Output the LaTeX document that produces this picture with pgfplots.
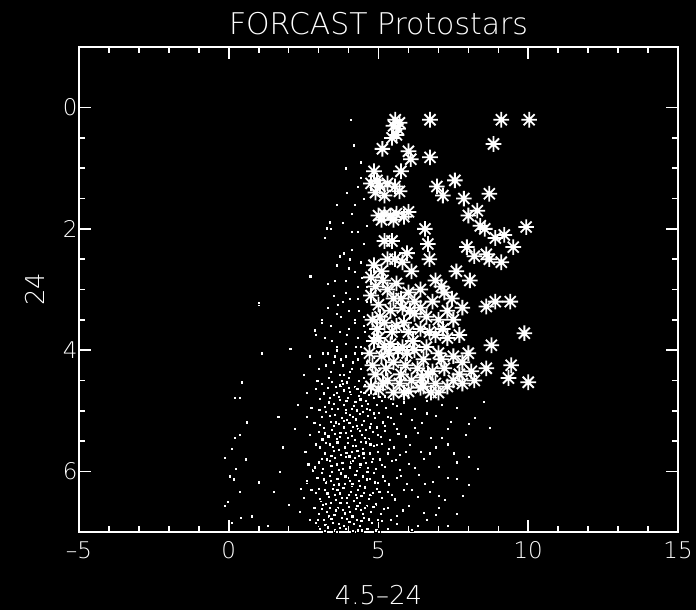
\documentclass[border=0pt]{standalone}
\usepackage{pgfplots}
\pgfplotsset{compat=1.18}
\usepackage{fontspec}
\setmainfont{DejaVu Sans ExtraLight}
\usetikzlibrary{backgrounds}
\pgfdeclareplotmark{ast8}{%
  \pgfpathmoveto{\pgfqpoint{-\pgfplotmarksize}{0pt}}\pgfpathlineto{\pgfqpoint{\pgfplotmarksize}{0pt}}%
  \pgfpathmoveto{\pgfqpoint{0pt}{-\pgfplotmarksize}}\pgfpathlineto{\pgfqpoint{0pt}{\pgfplotmarksize}}%
  \pgfpathmoveto{\pgfqpoint{-.707\pgfplotmarksize}{-.707\pgfplotmarksize}}\pgfpathlineto{\pgfqpoint{.707\pgfplotmarksize}{.707\pgfplotmarksize}}%
  \pgfpathmoveto{\pgfqpoint{-.707\pgfplotmarksize}{.707\pgfplotmarksize}}\pgfpathlineto{\pgfqpoint{.707\pgfplotmarksize}{-.707\pgfplotmarksize}}%
  \pgfusepathqstroke}
\begin{document}
\begin{tikzpicture}
\begin{axis}[
  name=ax, scale only axis, width=599bp, height=485bp,
  xmin=-5, xmax=15, ymin=-1, ymax=7, y dir=reverse,
  axis line style={white, line width=1.6bp},
  every tick/.style={white, line width=1.6bp},
  xtick pos=both, ytick pos=both, xticklabel pos=lower, yticklabel pos=left,
  tick align=inside, major tick length=12bp, minor tick length=6bp,
  xtick={-5,0,5,10,15}, xticklabels={\textendash5,0,5,10,15},
  minor x tick num=4,
  ytick={0,2,4,6}, yticklabels={0,2,4,6}, minor y tick num=3,
  ticklabel style={white, font=\fontsize{23}{23}\selectfont},
  xticklabel style={yshift=-6bp},
  yticklabel style={xshift=2bp},
  title={FORCAST Protostars},
  title style={white, font=\fontsize{30}{30}\selectfont, yshift=3bp},
  xlabel={4.5\textendash24}, ylabel={24},
  xlabel shift=20bp, ylabel shift=12bp,
  label style={white, font=\fontsize{26}{26}\selectfont},
  axis background/.style={fill=black},
]
% field sources (dots)
\addplot[only marks, mark=square*, mark size=1.6bp, mark options={fill=white, draw=none}] coordinates {
(4.07,0.2)(4.17,0.62)(4.4,0.9)(3.9,1.0)
(4.3,1.3)(4.5,1.5)(4.1,1.75)(3.8,1.9)(4.6,1.95)(4.4,1.15)(3.6,1.6)(3.95,1.4)(4.2,1.6)
(3.4,2.0)(3.2,2.15)(4.1,2.35)(4.5,2.25)(3.7,2.45)(4.3,2.05)(3.28,1.99)(3.37,1.89)(4.1,2.05)(3.85,2.4)(4.05,2.5)
(3.6,2.6)(4.2,2.7)(4.4,2.55)(3.9,2.85)(4.6,2.95)(3.3,2.9)(4.0,2.65)(4.3,2.95)(2.72,2.78)(4.45,2.8)(3.55,2.85)
(1.0,3.25)(3.5,3.1)(3.8,3.2)(4.0,3.35)(4.3,3.15)(4.5,3.45)(3.6,3.4)(4.2,3.5)(3.3,3.3)(4.6,3.2)(3.9,3.05)(3.1,3.5)(3.75,3.45)(4.05,3.15)(4.35,3.35)(3.65,3.25)
(3.4,3.6)(3.7,3.7)(4.0,3.65)(4.3,3.8)(4.5,3.6)(3.6,3.95)(3.9,3.9)(4.2,3.55)(4.4,3.95)(3.2,3.8)(2.9,3.75)(4.6,3.85)(3.1,3.55)(2.88,3.67)(2.05,3.97)(3.45,3.85)(3.95,3.75)(4.25,3.95)(4.55,3.7)
(1.09,4.05)(2.7,4.1)(3.0,4.3)(3.3,4.05)(3.5,4.2)(3.7,4.4)(3.9,4.1)(4.1,4.3)(4.3,4.15)(4.5,4.45)(3.6,4.0)(3.8,4.25)(4.0,4.45)(4.2,4.05)(3.4,4.35)(2.5,4.4)(4.4,4.3)(4.6,4.2)(3.55,4.1)(3.85,4.4)(4.15,4.2)(4.45,4.05)(3.25,4.25)(3.35,4.45)(4.05,4.35)(3.75,4.15)(3.15,4.05)(2.95,4.5)
(3.1,4.55)(3.3,4.62)(3.45,4.52)(3.6,4.7)(3.72,4.58)(3.85,4.66)(3.95,4.53)(4.08,4.72)(4.2,4.6)(4.33,4.5)(4.42,4.68)(4.55,4.57)(4.66,4.74)(3.5,4.74)(2.9,4.64)(2.6,4.7)(4.0,4.62)(3.77,4.51)
(3.05,4.8)(3.2,4.93)(3.38,4.78)(3.5,4.88)(3.63,4.97)(3.7,4.82)(3.83,4.9)(3.97,4.78)(4.1,4.96)(4.22,4.85)(4.35,4.76)(4.45,4.92)(4.58,4.83)(4.7,4.98)(4.83,4.79)(4.95,4.9)(5.1,4.84)(5.25,4.95)(5.4,4.8)(5.6,4.92)(5.85,4.86)(6.2,4.97)(6.6,4.83)(7.1,4.9)(2.75,4.95)(3.9,4.99)(4.27,4.99)(5.02,4.77)(8.5,4.85)(7.6,4.95)
(3.16,4.71)(3.33,4.86)(3.57,4.6)(3.66,4.77)(3.81,4.56)(3.92,4.84)(4.04,4.69)(4.16,4.91)(4.29,4.64)(4.39,4.81)(4.52,4.7)(4.64,4.89)(4.77,4.62)(4.9,4.72)(5.2,4.76)(5.48,4.88)(3.02,4.98)(3.44,4.96)(4.6,4.96)(6.9,4.72)(5.75,4.75)
(3.1,5.1)(3.25,5.02)(3.4,5.18)(3.55,5.06)(3.66,5.22)(3.78,5.12)(3.9,5.03)(4.02,5.2)(4.14,5.1)(4.26,5.24)(4.38,5.05)(4.5,5.16)(4.63,5.08)(4.75,5.21)(4.88,5.12)(5.0,5.03)(5.15,5.19)(5.32,5.1)(5.5,5.22)(5.75,5.05)(6.1,5.15)(6.45,5.2)(6.9,5.08)(7.4,5.18)(8.2,5.12)(2.85,5.2)(3.5,5.24)(4.45,5.23)(3.95,5.15)
(3.0,5.35)(3.18,5.28)(3.32,5.42)(3.47,5.3)(3.6,5.47)(3.72,5.36)(3.84,5.27)(3.96,5.44)(4.08,5.33)(4.2,5.48)(4.31,5.29)(4.43,5.4)(4.56,5.31)(4.68,5.46)(4.8,5.35)(4.93,5.27)(5.08,5.43)(5.22,5.33)(5.38,5.48)(5.6,5.3)(5.9,5.42)(6.3,5.36)(6.75,5.45)(7.3,5.3)(7.9,5.4)(8.7,5.28)(2.7,5.4)(3.55,5.38)(4.15,5.26)(4.6,5.49)
(3.04,5.23)(3.2,5.37)(3.36,5.08)(3.44,5.31)(3.58,5.19)(3.7,5.43)(3.83,5.16)(3.9,5.36)(4.05,5.06)(4.11,5.41)(4.24,5.14)(4.36,5.33)(4.48,5.02)(4.55,5.45)(4.7,5.27)(4.84,5.04)(4.98,5.39)(5.2,5.25)(5.42,5.12)(5.66,5.38)(6.2,5.28)(6.6,5.04)(7.1,5.44)(8.0,5.22)(2.6,5.1)(3.12,5.47)
(3.05,5.6)(3.2,5.7)(3.36,5.55)(3.5,5.66)(3.62,5.52)(3.74,5.72)(3.86,5.6)(3.98,5.53)(4.1,5.68)(4.22,5.57)(4.34,5.74)(4.46,5.62)(4.58,5.52)(4.7,5.7)(4.84,5.58)(4.97,5.67)(5.12,5.54)(5.3,5.7)(5.5,5.6)(5.72,5.73)(6.05,5.56)(6.4,5.68)(6.9,5.6)(7.5,5.7)(2.9,5.55)(2.55,5.68)(3.42,5.74)(4.02,5.75)(4.4,5.51)
(3.1,5.79)(3.25,5.53)(3.38,5.83)(3.47,5.59)(3.58,5.91)(3.68,5.64)(3.81,5.96)(3.92,5.69)(4.06,5.85)(4.13,5.58)(4.29,5.66)(4.36,5.92)(4.49,5.7)(4.57,5.86)(4.72,5.55)(4.8,5.79)(4.95,5.56)(5.1,5.89)(5.35,5.62)(5.58,5.81)(5.9,5.68)(6.2,5.94)(6.7,5.7)(7.3,5.55)(8.0,5.76)(2.65,5.88)
(3.0,5.85)(3.15,5.95)(3.28,5.8)(3.42,5.9)(3.55,5.78)(3.67,5.97)(3.79,5.86)(3.91,5.76)(4.03,5.93)(4.15,5.83)(4.27,5.99)(4.39,5.88)(4.51,5.77)(4.63,5.94)(4.76,5.84)(4.9,5.96)(5.05,5.8)(5.22,5.92)(5.45,5.82)(5.7,5.97)(6.0,5.87)(6.5,5.79)(7.0,5.92)(7.6,5.85)(8.3,5.95)(2.8,5.98)(3.6,5.88)(4.2,5.77)(2.86,5.93)
(2.95,6.1)(3.1,6.02)(3.24,6.18)(3.37,6.07)(3.5,6.22)(3.62,6.12)(3.74,6.03)(3.86,6.2)(3.98,6.1)(4.1,6.24)(4.22,6.05)(4.34,6.16)(4.46,6.08)(4.58,6.23)(4.7,6.12)(4.83,6.02)(4.98,6.19)(5.15,6.08)(5.35,6.21)(5.6,6.1)(5.95,6.2)(6.35,6.05)(6.8,6.17)(7.3,6.1)(8.0,6.22)(2.6,6.18)(3.45,6.01)(4.05,6.15)(4.62,6.01)
(3.0,6.28)(3.16,6.13)(3.29,6.36)(3.41,6.16)(3.53,6.39)(3.66,6.21)(3.77,6.43)(3.89,6.08)(4.0,6.38)(4.12,6.2)(4.26,6.43)(4.38,6.23)(4.5,6.35)(4.61,6.13)(4.72,6.38)(4.88,6.18)(5.02,6.33)(5.22,6.15)(5.45,6.38)(5.75,6.07)(6.1,6.3)(6.55,6.2)(7.0,6.4)(7.6,6.12)(2.75,6.3)(3.08,6.49)
(2.9,6.35)(3.05,6.45)(3.2,6.3)(3.33,6.42)(3.46,6.28)(3.58,6.47)(3.7,6.36)(3.82,6.27)(3.94,6.44)(4.06,6.33)(4.18,6.48)(4.3,6.3)(4.42,6.4)(4.54,6.26)(4.66,6.45)(4.8,6.35)(4.95,6.28)(5.1,6.44)(5.3,6.33)(5.55,6.46)(5.85,6.3)(6.3,6.42)(6.7,6.34)(7.2,6.47)(7.8,6.4)(2.5,6.44)(3.62,6.3)(4.25,6.38)(2.4,6.28)
(2.85,6.6)(3.0,6.7)(3.14,6.55)(3.28,6.66)(3.4,6.52)(3.52,6.72)(3.64,6.6)(3.76,6.53)(3.88,6.69)(4.0,6.58)(4.12,6.74)(4.24,6.62)(4.36,6.52)(4.48,6.7)(4.6,6.57)(4.74,6.67)(4.9,6.54)(5.08,6.7)(5.3,6.6)(5.6,6.73)(6.0,6.56)(6.5,6.68)(7.0,6.6)(7.6,6.7)(2.4,6.66)(3.35,6.74)(3.95,6.51)(4.4,6.63)(2.38,6.66)
(2.96,6.8)(3.1,6.62)(3.22,6.88)(3.36,6.6)(3.47,6.84)(3.58,6.64)(3.7,6.93)(3.8,6.63)(3.93,6.78)(4.05,6.67)(4.18,6.86)(4.29,6.57)(4.42,6.82)(4.55,6.6)(4.68,6.79)(4.82,6.58)(4.98,6.8)(5.18,6.62)(5.42,6.8)(5.8,6.64)(6.3,6.9)(6.9,6.72)(7.3,6.9)(2.7,6.8)(3.25,6.53)(4.45,6.97)(3.72,6.52)
(2.9,6.85)(3.05,6.95)(3.18,6.8)(3.3,6.92)(3.42,6.78)(3.54,6.97)(3.66,6.86)(3.78,6.77)(3.9,6.94)(4.02,6.83)(4.14,6.98)(4.26,6.8)(4.38,6.9)(4.5,6.76)(4.62,6.95)(4.76,6.85)(4.92,6.97)(5.1,6.82)(5.3,6.94)(5.6,6.86)(6.1,6.96)(6.6,6.8)(3.2,6.98)(3.6,6.99)(4.3,6.97)(5.0,6.99)(3.85,6.9)
(0.43,4.53)(0.2,4.78)(0.36,4.78)(0.99,3.22)(1.65,5.1)(0.6,5.19)(0.2,5.44)(0.36,5.39)(0.1,5.63)(-0.13,5.77)(0.56,5.8)(0.23,5.95)(0.03,6.08)(0.16,6.13)(0.99,6.18)(1.49,6.34)(0.36,6.34)(-0.13,6.57)(-0.03,6.5)(0.4,6.77)(0.76,6.74)(0.1,6.84)(2.6,6.15)
(1.8,5.6)(2.2,5.3)(1.3,6.9)(2.0,6.55)(1.7,6.0)(2.3,4.9)
};
% protostars (asterisks)
\addplot[only marks, mark=ast8, mark size=7.8bp, white, line width=1.8bp] coordinates {
(5.56,0.2)(6.72,0.2)(9.1,0.2)(10.03,0.2)
(5.5,0.3)(5.65,0.35)(5.6,0.45)(5.45,0.5)(5.7,0.25)
(5.13,0.68)(6.0,0.72)(6.08,0.85)(6.72,0.82)(8.84,0.6)
(4.85,1.05)(4.95,1.2)(5.05,1.3)(5.3,1.25)(5.55,1.3)(5.7,1.38)(4.9,1.4)(5.2,1.45)(4.75,1.25)(5.75,1.05)
(6.95,1.3)(7.15,1.45)(7.55,1.2)(7.85,1.5)(8.7,1.42)(8.3,1.7)(8.0,1.78)
(5.0,1.78)(5.2,1.76)(5.4,1.78)(5.6,1.75)(5.85,1.8)(6.0,1.72)(5.1,1.85)(5.5,1.85)
(6.55,2.0)(6.65,2.25)(6.7,2.5)(8.4,1.95)(8.55,2.0)(9.93,1.97)(9.2,2.1)(8.9,2.15)(7.95,2.3)(8.6,2.42)(8.7,2.5)(9.1,2.55)(9.5,2.3)(8.2,2.45)
(4.85,2.6)(5.1,2.7)(5.55,2.5)(5.8,2.55)(6.1,2.7)(5.3,2.5)(5.95,2.4)(5.45,2.2)(5.2,2.2)
(7.6,2.7)(8.05,2.85)(7.1,2.95)(7.45,3.15)(8.9,3.2)(9.4,3.2)(8.6,3.28)(7.8,3.3)(9.87,3.72)
(4.9,2.95)(5.3,3.0)(5.6,2.9)(6.0,3.05)(6.4,3.0)(6.8,3.2)(5.0,3.25)(5.4,3.35)(5.8,3.3)(6.2,3.4)(6.6,3.45)(7.0,3.5)(7.3,3.35)
(5.15,2.85)(5.75,3.15)(6.2,3.2)(5.45,3.7)(5.85,3.55)(6.15,3.85)(6.5,4.15)(5.25,4.3)(5.75,4.4)(6.65,4.4)(7.1,4.15)(4.95,3.65)(5.35,4.05)(7.5,3.5)(7.8,4.2)(6.4,3.3)(4.8,4.25)(5.65,4.0)(4.75,2.8)(7.2,3.05)(6.9,2.85)
(4.8,3.5)(5.2,3.55)(5.6,3.6)(6.0,3.7)(6.4,3.65)(6.9,3.75)(7.3,3.8)(7.7,3.75)
(5.0,3.8)(5.4,3.9)(5.8,3.95)(6.2,4.0)(6.6,3.95)(7.0,4.05)(7.5,4.1)(8.0,4.05)
(4.7,4.05)(5.1,4.1)(5.5,4.2)(5.9,4.25)(6.3,4.3)(6.8,4.35)(7.2,4.3)(7.7,4.4)(8.1,4.35)(8.6,4.3)(8.77,3.92)
(4.9,4.4)(5.3,4.5)(5.7,4.55)(6.1,4.5)(6.5,4.6)(6.9,4.55)(7.3,4.6)(7.8,4.55)
(5.0,4.65)(5.5,4.7)(6.0,4.68)(6.4,4.62)(9.43,4.25)(9.34,4.46)(10.0,4.53)(8.2,4.5)
(4.75,3.1)(5.05,3.45)(5.5,3.15)(6.05,3.35)(6.7,3.7)(7.15,3.65)(4.85,3.85)(5.2,3.95)(5.95,4.05)(6.45,4.45)(7.5,4.5)(5.15,4.55)(4.75,4.6)(5.85,4.7)(6.75,4.7)(7.0,4.7)
};
\end{axis}
\begin{scope}[on background layer]
\fill[black] (ax.south west) ++(-79bp,-78bp) rectangle ++(696bp,610bp);
\end{scope}
\pgfresetboundingbox
\path (ax.south west) ++(-79bp,-78bp) rectangle ++(696bp,610bp);
\end{tikzpicture}
\end{document}
